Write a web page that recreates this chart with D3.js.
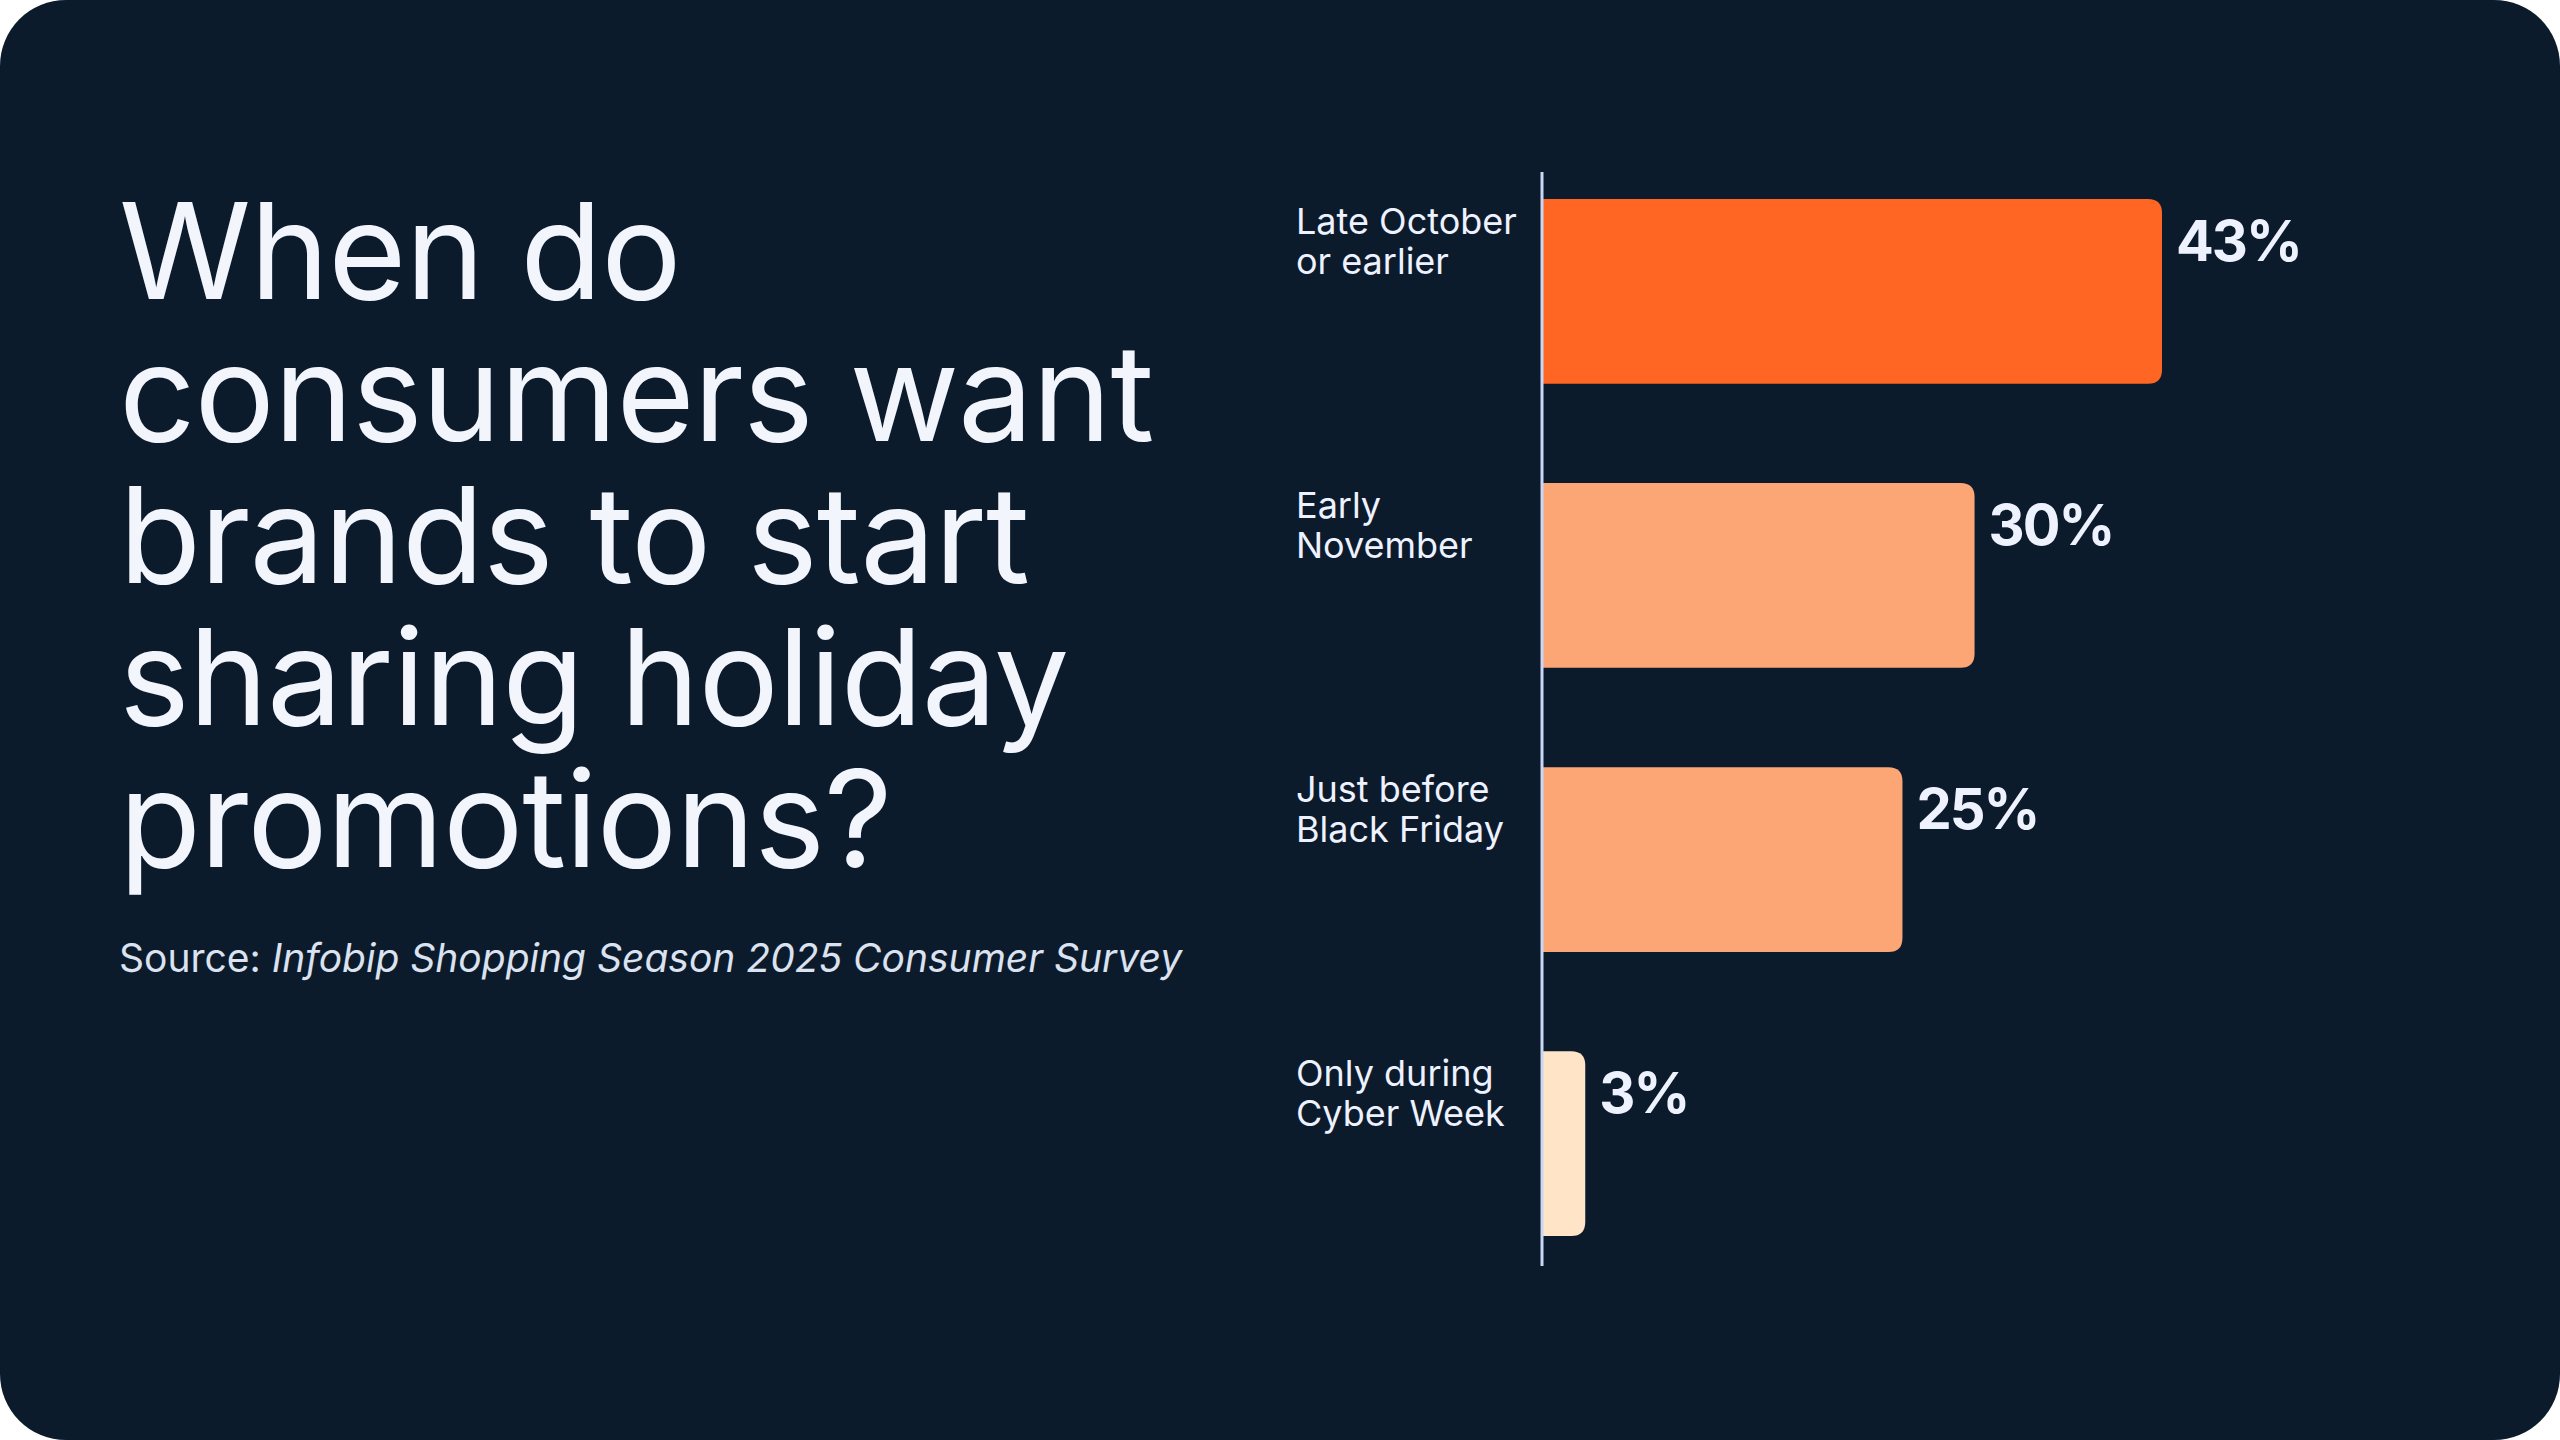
<!DOCTYPE html>
<html>
<head>
<meta charset="utf-8">
<script src="https://cdn.jsdelivr.net/npm/d3@7"></script>
<style>
  body { margin: 0; background: #ffffff; }
  svg { display: block; }
</style>
</head>
<body>
<svg id="chart"></svg>
<script>
const categories = [['Late October', 'or earlier'], ['Early', 'November'], ['Just before', 'Black Friday'], ['Only during', 'Cyber Week']];
const values = [43, 30, 25, 3];
const barColors = ['#ff6624', '#fba674', '#fba674', '#ffe4c8'];
const titleLines = ['When do', 'consumers want', 'brands to start', 'sharing holiday', 'promotions?'];

const width = 2560, height = 1440;
const svg = d3.select('#chart').attr('width', width).attr('height', height);
const font = 'Inter, "Noto Sans", sans-serif';

svg.append('rect').attr('width', width).attr('height', height).attr('rx', 66).attr('fill', '#0c1b2c');

// Title
const title = svg.append('text').attr('x', 119).attr('fill', '#f2f5fb')
  .style('font-family', font).style('font-size', '134px').style('letter-spacing', '-1px');
title.selectAll('tspan').data(titleLines).join('tspan')
  .attr('x', 119).attr('y', (d, i) => 299 + i * 142).text(d => d);

const src = svg.append('text').attr('x', 119).attr('y', 972).attr('fill', '#dbe2f0')
  .style('font-family', font).style('font-size', '39px');
src.append('tspan').text('Source: ');
src.append('tspan').style('font-style', 'italic').text('Infobip Shopping Season 2025 Consumer Survey');

// Chart
const x0 = 1542;
const x = d3.scaleLinear().domain([0, 43]).range([x0, x0 + 620]);
const y = d3.scaleBand().domain(d3.range(values.length)).range([199, 1236]).paddingInner(0.35).paddingOuter(0);
const r = 14;

const g = svg.append('g');
g.selectAll('path.bar').data(values).join('path')
  .attr('class', 'bar')
  .attr('fill', (d, i) => barColors[i])
  .attr('d', (d, i) => {
    const x1 = Math.max(x(d), x0 + r + 8), yt = y(i), yb = y(i) + y.bandwidth();
    return `M${x0},${yt} H${x1 - r} Q${x1},${yt} ${x1},${yt + r} V${yb - r} Q${x1},${yb} ${x1 - r},${yb} H${x0} Z`;
  });

g.append('line').attr('x1', x0).attr('x2', x0).attr('y1', 172).attr('y2', 1266)
  .attr('stroke', '#c9d6f5').attr('stroke-width', 3);

g.selectAll('text.val').data(values).join('text')
  .attr('class', 'val')
  .attr('x', (d, i) => Math.max(x(d), x0 + r + 8) + 14)
  .attr('y', (d, i) => y(i) + 62)
  .attr('fill', '#eef2ff')
  .style('font-family', font).style('font-weight', 700).style('font-size', '56px').style('letter-spacing', '-2px')
  .text(d => d + '%');

const labels = g.selectAll('text.cat').data(categories).join('text')
  .attr('class', 'cat').attr('fill', '#eef2ff')
  .style('font-family', font).style('font-size', '36px');
labels.selectAll('tspan').data((d, i) => d.map(s => ({ s, i }))).join('tspan')
  .attr('x', 1296).attr('y', (d, j) => y(d.i) + 35 + j * 40).text(d => d.s);
</script>
</body>
</html>
